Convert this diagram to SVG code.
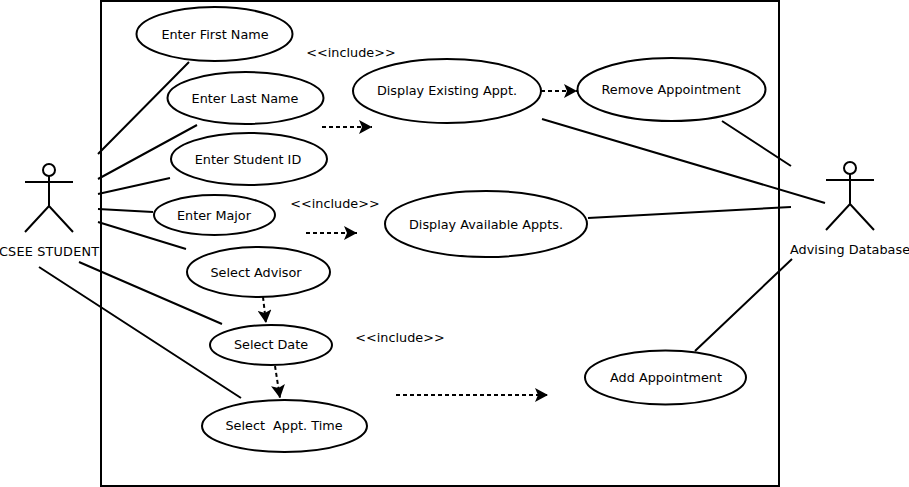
<svg xmlns="http://www.w3.org/2000/svg" width="909" height="487" viewBox="0 0 909 487">
<style>
text{font-family:"DejaVu Sans",sans-serif;font-size:12.8px;fill:#000;text-anchor:middle}
ellipse{fill:#fff;stroke:#000;stroke-width:2}
.l{stroke:#000;stroke-width:2;fill:none}
.d{stroke:#000;stroke-width:2;fill:none;stroke-dasharray:4 3;marker-end:url(#a)}
</style>
<defs><marker id="a" markerUnits="userSpaceOnUse" markerWidth="14" markerHeight="14" refX="13" refY="7" orient="auto"><path d="M0 0L13 7L0 14L3 7Z" fill="#000"/></marker></defs>
<rect width="909" height="487" fill="#fff"/>
<rect x="101" y="1" width="678" height="485" fill="#fff" stroke="#000" stroke-width="2"/>
<g id="connectors">
<path class="l" d="M98 154L189 62M98 179L197 125M98 194L170 178M98 209L153 212M98 222L186 249M79 262L222 324M39 267L241 398M542 119L825 203M588 218L791 207M722 121L791 166M695 351L792 259"/>
<path class="d" d="M322 127H372"/>
<path class="d" d="M306 233H357"/>
<path class="d" d="M541 91H577"/>
<path class="d" d="M263 297L266 323"/>
<path class="d" d="M275 366L280 398"/>
<path class="d" d="M396 395H548"/>
</g>
<g id="student" class="l"><circle cx="49" cy="170" r="6"/><path d="M25 182H73M49 176V206M25 232L49 206L73 232"/><text x="49" y="256" stroke="none" textLength="100" lengthAdjust="spacing">CSEE STUDENT</text></g>
<g id="database" class="l"><circle cx="850" cy="168" r="6"/><path d="M826 180H874M850 174V204M826 230L850 204L874 230"/><text x="850" y="254" stroke="none" textLength="120" lengthAdjust="spacing">Advising Database</text></g>
<g id="n1"><ellipse cx="214.5" cy="34" rx="78" ry="27"/><text x="215" y="39">Enter First Name</text></g>
<g id="n2"><ellipse cx="245.5" cy="98" rx="78" ry="26"/><text x="245" y="103">Enter Last Name</text></g>
<g id="n3"><ellipse cx="249" cy="159" rx="78" ry="26"/><text x="248" y="164">Enter Student ID</text></g>
<g id="n4"><ellipse cx="214.5" cy="215" rx="60.5" ry="20"/><text x="214" y="220">Enter Major</text></g>
<g id="n5"><ellipse cx="258.5" cy="272" rx="71.5" ry="25"/><text x="256" y="277">Select Advisor</text></g>
<g id="n6"><ellipse cx="271" cy="345" rx="61" ry="20"/><text x="271" y="349">Select Date</text></g>
<g id="n7"><ellipse cx="284.5" cy="426" rx="82.5" ry="26"/><text x="284" y="430" xml:space="preserve">Select  Appt. Time</text></g>
<g id="n8"><ellipse cx="447" cy="91" rx="94" ry="32"/><text x="447" y="95">Display Existing Appt.</text></g>
<g id="n9"><ellipse cx="671.5" cy="89.5" rx="94" ry="31.5"/><text x="671" y="94">Remove Appointment</text></g>
<g id="n10"><ellipse cx="486" cy="224" rx="101" ry="33"/><text x="486" y="229">Display Available Appts.</text></g>
<g id="n11"><ellipse cx="665.5" cy="377.5" rx="80.5" ry="27"/><text x="666" y="382">Add Appointment</text></g>
<text x="351" y="57">&lt;&lt;include&gt;&gt;</text>
<text x="335" y="208">&lt;&lt;include&gt;&gt;</text>
<text x="400" y="342">&lt;&lt;include&gt;&gt;</text>
</svg>
